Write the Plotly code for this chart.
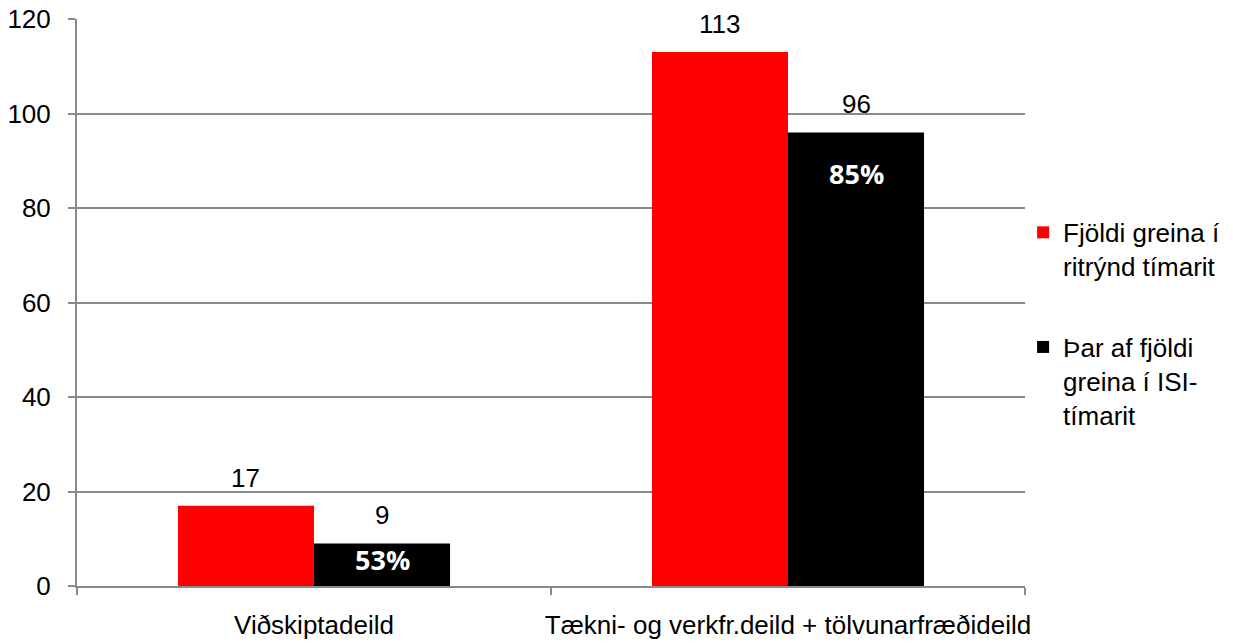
import plotly.graph_objects as go

categories = ["Viðskiptadeild", "Tækni- og verkfr.deild + tölvunarfræðideild"]
fjoldi_greina = [17, 113]
isi_greinar = [9, 96]
isi_hlutfall = ["53%", "85%"]
series_names = ["Fjöldi greina í<br>ritrýnd tímarit", "Þar af fjöldi<br>greina í ISI-<br>tímarit"]
y_ticks = [0, 20, 40, 60, 80, 100, 120]

RED = "#FF0000"
BLACK = "#000000"
GRID = "#8A8A8A"
FONT = "Liberation Sans, Arial, sans-serif"
FS = 26

BARGAP = 0.426
half = (1 - BARGAP) / 4  # half bar width in category units

fig = go.Figure()
fig.add_trace(go.Bar(x=categories, y=fjoldi_greina, name=series_names[0],
                     marker=dict(color=RED, line=dict(width=0)), legendgroup="a"))
fig.add_trace(go.Bar(x=categories, y=isi_greinar, name=series_names[1],
                     marker=dict(color=BLACK, line=dict(width=0)), legendgroup="b"))

ann = []
for i, (a, b) in enumerate(zip(fjoldi_greina, isi_greinar)):
    ann.append(dict(x=i - half, y=a, xref="x", yref="y", text=str(a), showarrow=False,
                    yanchor="bottom", yshift=11, font=dict(family=FONT, size=FS, color="#000")))
    ann.append(dict(x=i + half, y=b, xref="x", yref="y", text=str(b), showarrow=False,
                    yanchor="bottom", yshift=11, font=dict(family=FONT, size=FS, color="#000")))
pct_shift = [4, -21]
for i, (b, p) in enumerate(zip(isi_greinar, isi_hlutfall)):
    ann.append(dict(x=i + half, y=b, xref="x", yref="y", text="<b>" + p + "</b>", showarrow=False,
                    yanchor="top", yshift=pct_shift[i],
                    font=dict(family="Open Sans, sans-serif", size=27, color="#FFFFFF")))

fig.update_layout(
    width=1233, height=643,
    margin=dict(l=77, r=208, t=19, b=57, autoexpand=False),
    paper_bgcolor="white", plot_bgcolor="white",
    barmode="group", bargap=BARGAP, bargroupgap=0,
    font=dict(family=FONT, size=FS, color="#000"),
    annotations=ann,
    legend=dict(x=0.998, xanchor="left", y=0.665, yanchor="top", valign="top",
                font=dict(family=FONT, size=FS, color="#000"),
                tracegroupgap=44, bgcolor="rgba(0,0,0,0)"),
    showlegend=True,
)
fig.update_xaxes(type="category", showline=True, linecolor=GRID, linewidth=2,
                 ticks="outside", tickson="boundaries", ticklen=7, tickwidth=2, tickcolor=GRID,
                 showgrid=False, ticklabelstandoff=15, tickangle=0, automargin=False,
                 tickfont=dict(family=FONT, size=FS, color="#000"))
fig.update_yaxes(range=[0, 120], tickvals=y_ticks, showline=True, linecolor=GRID, linewidth=2,
                 ticks="outside", ticklen=7, tickwidth=2, tickcolor=GRID,
                 showgrid=True, gridcolor=GRID, gridwidth=2, zeroline=False,
                 ticklabelstandoff=12, automargin=False,
                 tickfont=dict(family=FONT, size=FS, color="#000"))

fig.write_html("out.html", config={"displayModeBar": False},
               post_script="document.body.style.margin='0';document.body.style.overflow='hidden';")
